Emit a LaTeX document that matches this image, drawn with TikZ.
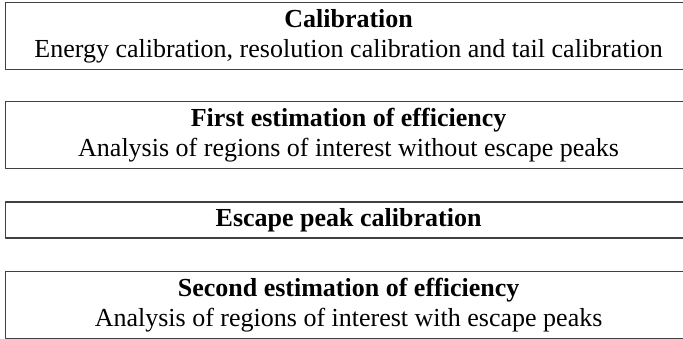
\documentclass[tikz,border=0pt]{standalone}
\usepackage{fontspec}
\setmainfont{Liberation Serif}
\usetikzlibrary{positioning}
\begin{document}
\begin{tikzpicture}[x=1pt, y=-1pt, font=\fontsize{26}{30}\selectfont, line join=round]
	\tikzset{
		stage/.style={draw=black!75, line width=1.2pt, minimum width=686pt, align=center, inner sep=0pt, anchor=north west},
		tall/.style={stage, minimum height=67pt},
		short/.style={stage, minimum height=36pt}
	}
	\useasboundingbox (0,0) rectangle (683,338);
	% stages, top to bottom
	\node[tall] (calib) at (5,2) {\textbf{Calibration}\\Energy calibration, resolution calibration and tail calibration};
	\node[tall, below=31pt of calib.south west, anchor=north west] (first) {\textbf{First estimation of efficiency}\\Analysis of regions of interest without escape peaks};
	\node[short, below=32pt of first.south west, anchor=north west] (escape) {\textbf{Escape peak calibration}};
	\node[tall, below=32pt of escape.south west, anchor=north west] (second) {\textbf{Second estimation of efficiency}\\Analysis of regions of interest with escape peaks};
\end{tikzpicture}
\end{document}
